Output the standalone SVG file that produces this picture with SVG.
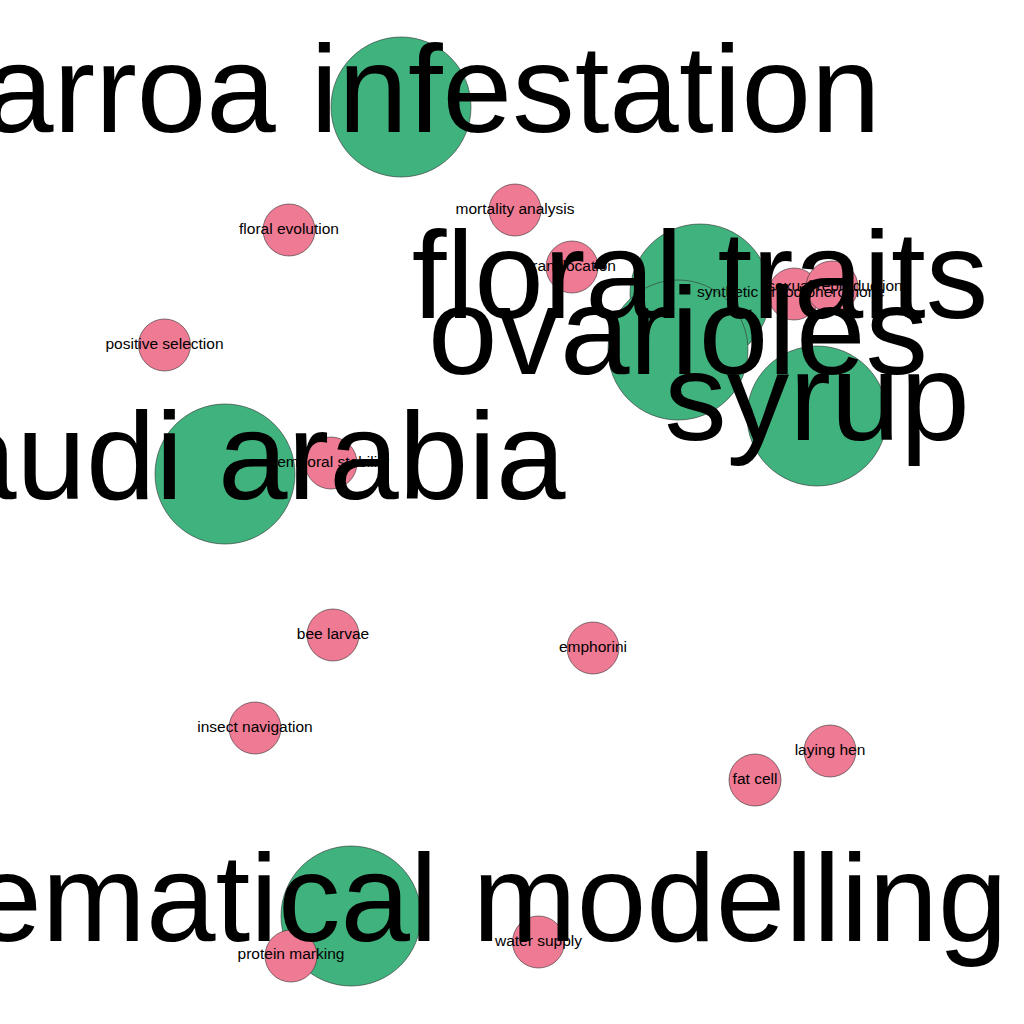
<svg xmlns="http://www.w3.org/2000/svg" width="1024" height="1024" viewBox="0 0 1024 1024">
<style>
.big{fill:#40b27e;stroke:#333;stroke-width:0.6}
.small{fill:#ee7a93;stroke:#333;stroke-width:0.6}
.bl{font-family:"Liberation Sans",Arial,sans-serif;font-size:125px;fill:#000;text-anchor:middle}
.sl{font-family:"Liberation Sans",Arial,sans-serif;font-size:15.5px;fill:#000;text-anchor:middle}
</style>
<rect width="1024" height="1024" fill="#fff"/>
<g id="connectors"></g>
<g id="circles">
<g id="n-varroa"><circle class="big" cx="401" cy="107" r="70"/></g>
<g id="n-floraltraits"><circle class="big" cx="700" cy="294" r="70"/></g>
<g id="n-ovarioles"><circle class="big" cx="678" cy="350" r="70"/></g>
<g id="n-syrup"><circle class="big" cx="817" cy="416" r="70"/></g>
<g id="n-saudi"><circle class="big" cx="225" cy="474" r="70"/></g>
<g id="n-math"><circle class="big" cx="351" cy="916" r="70"/></g>
<g id="n-mortality"><circle class="small" cx="515" cy="210" r="26"/></g>
<g id="n-transloc"><circle class="small" cx="572" cy="267" r="26"/></g>
<g id="n-floralevo"><circle class="small" cx="289" cy="230" r="26"/></g>
<g id="n-positive"><circle class="small" cx="164.5" cy="345" r="26"/></g>
<g id="n-temporal"><circle class="small" cx="331" cy="463" r="26"/></g>
<g id="n-beelarvae"><circle class="small" cx="333" cy="635" r="26"/></g>
<g id="n-emphorini"><circle class="small" cx="593" cy="648" r="26"/></g>
<g id="n-insect"><circle class="small" cx="255" cy="728" r="26"/></g>
<g id="n-laying"><circle class="small" cx="830" cy="751" r="26"/></g>
<g id="n-fatcell"><circle class="small" cx="755" cy="780" r="26"/></g>
<g id="n-protein"><circle class="small" cx="291" cy="956" r="26"/></g>
<g id="n-water"><circle class="small" cx="538.5" cy="942" r="26"/></g>
<g id="n-sbp"><circle class="small" cx="794" cy="294" r="26"/></g>
<g id="n-sexual"><circle class="small" cx="832" cy="287" r="26"/></g>
</g>
<g id="labels">
<text class="bl" x="401" y="132">varroa infestation</text>
<text class="bl" x="700" y="318">floral traits</text>
<text class="bl" x="678" y="374">ovarioles</text>
<text class="bl" x="817" y="440">syrup</text>
<text class="bl" x="225" y="499">saudi arabia</text>
<text class="bl" x="351" y="941">mathematical modelling</text>
<text class="sl" x="515" y="214">mortality analysis</text>
<text class="sl" x="572" y="271">translocation</text>
<text class="sl" x="289" y="234">floral evolution</text>
<text class="sl" x="164.5" y="349">positive selection</text>
<text class="sl" x="331" y="467">temporal stability</text>
<text class="sl" x="333" y="639">bee larvae</text>
<text class="sl" x="593" y="652">emphorini</text>
<text class="sl" x="255" y="732">insect navigation</text>
<text class="sl" x="830" y="755">laying hen</text>
<text class="sl" x="755" y="784">fat cell</text>
<text class="sl" x="291" y="959">protein marking</text>
<text class="sl" x="538.5" y="946">water supply</text>
<text class="sl" x="791" y="297">synthetic brood pheromone</text>
<text class="sl" x="835" y="291">sexual reproduction</text>
</g>
</svg>
